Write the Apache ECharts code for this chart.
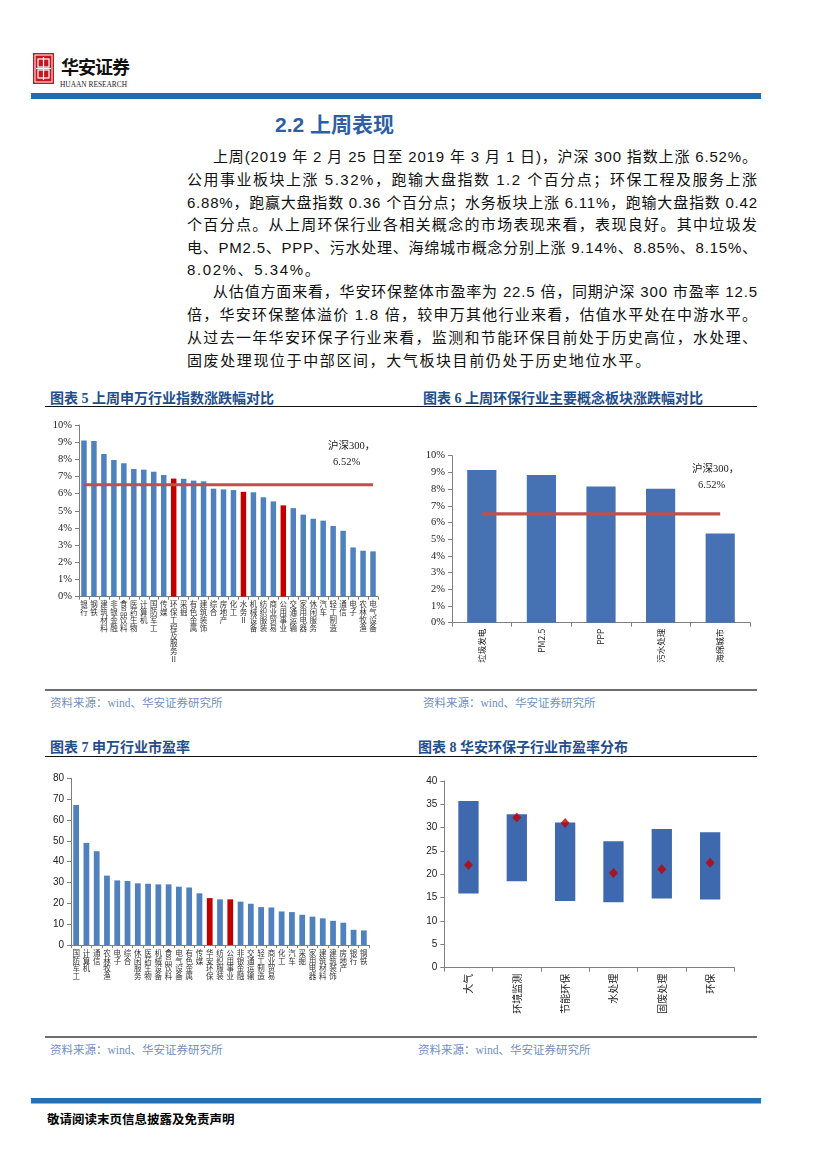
<!DOCTYPE html>
<html>
<head>
<meta charset="utf-8">
<script src="https://cdn.jsdelivr.net/npm/echarts/dist/echarts.min.js"></script>
<style>
html,body{margin:0;padding:0;background:#fff;}
#page{position:relative;width:827px;height:1169px;overflow:hidden;background:#fff;font-family:"Liberation Sans","Noto Sans CJK SC",sans-serif;}
.abs{position:absolute;}
.line{position:absolute;font-size:15px;color:#111;white-space:nowrap;line-height:20px;height:20px;}
.ctitle{position:absolute;font-size:14px;font-weight:bold;color:#234e8e;white-space:nowrap;font-family:"Liberation Serif","Noto Sans CJK SC",serif;}
.src{position:absolute;font-size:11.5px;color:#6f8fc0;white-space:nowrap;font-family:"Liberation Serif","Noto Sans CJK SC",serif;}
.rule{position:absolute;height:0;}
</style>
</head>
<body>
<div id="page">
  <!-- header -->
  <svg class="abs" style="left:33px;top:53px" width="21" height="31" viewBox="0 0 21 31">
    <rect x="0" y="0" width="21" height="31" fill="#c4161c"/>
    <rect x="2" y="2" width="17" height="27" fill="none" stroke="#fff" stroke-width="1"/>
    <rect x="5" y="6" width="11" height="8" fill="none" stroke="#fff" stroke-width="1.2"/>
    <rect x="5" y="17" width="11" height="8" fill="none" stroke="#fff" stroke-width="1.2"/>
    <line x1="10.5" y1="4" x2="10.5" y2="27" stroke="#fff" stroke-width="1.2"/>
    <line x1="3" y1="15.5" x2="18" y2="15.5" stroke="#fff" stroke-width="1.2"/>
  </svg>
  <div class="abs" style="left:61px;top:53px;font-size:18px;font-weight:bold;color:#111;letter-spacing:-1px;font-family:'Noto Sans CJK SC';">华安证券</div>
  <div class="abs" style="left:60px;top:79px;font-size:9px;color:#222;font-family:'Liberation Serif';transform:scaleX(0.82);transform-origin:left top;white-space:nowrap;">HUAAN RESEARCH</div>
  <div class="abs" style="left:31px;top:93px;width:730px;height:6px;background:#1f6db0;"></div>

  <div class="abs" style="left:275px;top:108px;font-size:21px;font-weight:bold;color:#2e5fa5;white-space:nowrap;">2.2 上周表现</div>

  <!-- chart titles -->
  <div class="ctitle" style="left:50px;top:387px;">图表 5 上周申万行业指数涨跌幅对比</div>
  <div class="ctitle" style="left:423px;top:387px;">图表 6 上周环保行业主要概念板块涨跌幅对比</div>
  <div class="rule" style="left:45px;top:406px;width:712px;border-top:1.5px solid #111;"></div>

  <div id="c5" class="abs" style="left:40px;top:415px;width:350px;height:272px;"></div>
  <div id="c6" class="abs" style="left:405px;top:440px;width:355px;height:247px;"></div>

  <div class="rule" style="left:45px;top:689px;width:712px;border-top:2px solid #6d6d6d;"></div>
  <div class="src" style="left:50px;top:694px;">资料来源：wind、华安证券研究所</div>
  <div class="src" style="left:423px;top:694px;">资料来源：wind、华安证券研究所</div>

  <div class="ctitle" style="left:50px;top:736px;">图表 7 申万行业市盈率</div>
  <div class="ctitle" style="left:418px;top:736px;">图表 8 华安环保子行业市盈率分布</div>
  <div class="rule" style="left:45px;top:756px;width:712px;border-top:1.5px solid #111;"></div>

  <div id="c7" class="abs" style="left:40px;top:765px;width:350px;height:268px;"></div>
  <div id="c8" class="abs" style="left:405px;top:770px;width:355px;height:263px;"></div>

  <div class="rule" style="left:45px;top:1036px;width:712px;border-top:2px solid #6d6d6d;"></div>
  <div class="src" style="left:50px;top:1041px;">资料来源：wind、华安证券研究所</div>
  <div class="src" style="left:418px;top:1041px;">资料来源：wind、华安证券研究所</div>

  <!-- footer -->
  <div class="abs" style="left:31px;top:1098px;width:730px;height:5px;background:#2471b5;border-bottom:1px solid #8db8e0;"></div>
  <div class="abs" style="left:47px;top:1109px;font-size:12.5px;font-weight:bold;color:#000;white-space:nowrap;font-family:'Noto Sans CJK SC';">敬请阅读末页信息披露及免责声明</div>
</div>

<script>
// ---------------- text ----------------
const bodyLines = [
  {t:"上周(2019 年 2 月 25 日至 2019 年 3 月 1 日)，沪深 300 指数上涨 6.52%。", indent:true, full:true},
  {t:"公用事业板块上涨 5.32%，跑输大盘指数 1.2 个百分点；环保工程及服务上涨", full:true},
  {t:"6.88%，跑赢大盘指数 0.36 个百分点；水务板块上涨 6.11%，跑输大盘指数 0.42", full:true},
  {t:"个百分点。从上周环保行业各相关概念的市场表现来看，表现良好。其中垃圾发", full:true},
  {t:"电、PM2.5、PPP、污水处理、海绵城市概念分别上涨 9.14%、8.85%、8.15%、", full:true},
  {t:"8.02%、5.34%。", full:false},
  {t:"从估值方面来看，华安环保整体市盈率为 22.5 倍，同期沪深 300 市盈率 12.5", indent:true, full:true},
  {t:"倍，华安环保整体溢价 1.8 倍，较申万其他行业来看，估值水平处在中游水平。", full:true},
  {t:"从过去一年华安环保子行业来看，监测和节能环保目前处于历史高位，水处理、", full:true},
  {t:"固废处理现位于中部区间，大气板块目前仍处于历史地位水平。", full:false}
];
const lineTops = [147,170,193,215,238,260,282,305,328,351];
(function(){
  const page = document.getElementById('page');
  bodyLines.forEach((ln,i)=>{
    const d = document.createElement('div');
    d.className = 'line';
    const left = ln.indent ? 213 : 187;
    const W = 757 - left;
    d.style.left = left + 'px';
    d.style.top = lineTops[i] + 'px';
    d.textContent = ln.t;
    page.appendChild(d);
    const n = [...ln.t].length;
    if (ln.full) {
      const w = d.getBoundingClientRect().width;
      const ls = (W - w) / (n - 1);
      d.style.letterSpacing = ls.toFixed(3) + 'px';
    } else {
      d.style.letterSpacing = '1.6px';
    }
  });
})();

// ---------------- data ----------------
const c5Cats = ["银行","钢铁","建筑材料","非银金融","食品饮料","医药生物","计算机","国防军工","传媒","环保工程及服务Ⅱ","采掘","有色金属","建筑装饰","综合","房地产","化工","水务Ⅱ","机械设备","纺织服装","商业贸易","公用事业","交通运输","家用电器","休闲服务","汽车","轻工制造","通信","电子","农林牧渔","电气设备"];
const c5Vals = [9.09,9.07,8.31,7.96,7.77,7.44,7.40,7.28,7.09,6.88,6.87,6.76,6.72,6.29,6.25,6.21,6.11,6.08,5.79,5.55,5.32,5.16,4.78,4.54,4.43,4.12,3.84,2.87,2.68,2.64];
const c5Highlight = ["环保工程及服务Ⅱ","水务Ⅱ","公用事业"];
const hs300 = 6.52;
const hs300Label = ["沪深300，","6.52%"];

const c6Cats = ["垃圾发电","PM2.5","PPP","污水处理","海绵城市"];
const c6Vals = [9.14,8.85,8.15,8.02,5.34];

const c7Cats = ["国防军工","计算机","通信","农林牧渔","电子","综合","休闲服务","医药生物","机械设备","食品饮料","电气设备","有色金属","传媒","华安环保","纺织服装","公用事业","非银金融","交通运输","轻工制造","商业贸易","化工","汽车","采掘","家用电器","建筑材料","建筑装饰","房地产","银行","钢铁"];
const c7Vals = [67.2,49.0,45.0,33.3,31.0,30.7,29.6,29.4,29.1,29.1,28.0,27.6,24.8,22.5,21.9,21.9,20.8,19.8,18.2,18.0,16.1,15.8,14.5,13.6,12.8,11.6,10.7,7.3,7.0];
const c7Highlight = ["华安环保","公用事业"];

const c8Cats = ["大气","环境监测","节能环保","水处理","固废处理","环保"];
const c8Min = [15.9,18.5,14.3,14.0,14.8,14.6];
const c8Max = [35.7,32.9,31.1,27.1,29.7,29.0];
const c8Cur = [22.0,32.2,31.0,20.3,21.1,22.5];

const pctTicks = {min:0,max:10,interval:1};
const pe7Ticks = {min:0,max:80,interval:10};
const pe8Ticks = {min:0,max:40,interval:5};

// ---------------- styles ----------------
const BLUE = '#4f81bd', RED = '#c00000', LINE = '#c0504d', AX = '#7f7f7f';
const serif = 'Liberation Serif';
const cjk = 'Noto Sans CJK SC';
const stack = v => [...String(v)].join('\n');

function yAx(t, fmt, font, size){
  return {type:'value',min:t.min,max:t.max,interval:t.interval,
    axisLine:{show:true,lineStyle:{color:AX,width:1}},
    axisTick:{show:true,length:4,lineStyle:{color:AX}},
    splitLine:{show:false},
    axisLabel:{formatter:fmt,fontFamily:font,fontSize:size,color:'#222',margin:7}};
}
function xAxStack(cats){
  return {type:'category',data:cats,
    axisLine:{lineStyle:{color:AX}},
    axisTick:{show:true,length:3,lineStyle:{color:AX}},
    axisLabel:{interval:0,rotate:0,hideOverlap:false,formatter:stack,fontFamily:cjk,fontSize:7.5,lineHeight:7.8,color:'#333',margin:4,align:'center',verticalAlign:'top'}};
}
function xAxRot(cats,size){
  return {type:'category',data:cats,
    axisLine:{lineStyle:{color:AX}},
    axisTick:{show:true,length:4,lineStyle:{color:AX}},
    axisLabel:{interval:0,rotate:90,fontFamily:cjk,fontSize:size,color:'#222',margin:6}};
}

// chart 5
echarts.init(document.getElementById('c5')).setOption({
  animation:false,
  grid:{left:39,top:10,width:299,height:171.7,containLabel:false},
  xAxis:xAxStack(c5Cats),
  yAxis:yAx(pctTicks,'{value}%',serif,10.5),
  series:[
    {type:'bar',barCategoryGap:'45%',z:2,
     data:c5Vals.map((v,i)=>({value:v,itemStyle:{color:c5Highlight.includes(c5Cats[i])?RED:BLUE}}))},
    {type:'line',data:c5Cats.map(()=>hs300),symbol:'none',z:5,lineStyle:{color:LINE,width:3.2}}
  ],
  graphic:[
    {type:'text',left:288,top:26,style:{text:hs300Label[0],font:'10.5px "Liberation Serif","Noto Sans CJK SC"',fill:'#222'}},
    {type:'text',left:293,top:42,style:{text:hs300Label[1],font:'10.5px "Liberation Serif"',fill:'#222'}}
  ]
});

// chart 6
echarts.init(document.getElementById('c6')).setOption({
  animation:false,
  grid:{left:47,top:15.7,width:298,height:167,containLabel:false},
  xAxis:xAxRot(c6Cats,8.5),
  yAxis:yAx(pctTicks,'{value}%',serif,10.5),
  series:[
    {type:'bar',barWidth:'49%',z:2,itemStyle:{color:'#4672b4'},data:c6Vals},
    {type:'line',data:c6Cats.map(()=>hs300),symbol:'none',z:5,lineStyle:{color:LINE,width:3.2}}
  ],
  graphic:[
    {type:'text',left:287,top:24,style:{text:hs300Label[0],font:'10.5px "Liberation Serif","Noto Sans CJK SC"',fill:'#222'}},
    {type:'text',left:293,top:40,style:{text:hs300Label[1],font:'10.5px "Liberation Serif"',fill:'#222'}}
  ]
});

// chart 7
echarts.init(document.getElementById('c7')).setOption({
  animation:false,
  grid:{left:31,top:13.3,width:298,height:166.7,containLabel:false},
  xAxis:xAxStack(c7Cats),
  yAxis:yAx(pe7Ticks,'{value}','Liberation Sans',10),
  series:[
    {type:'bar',barCategoryGap:'44%',
     data:c7Vals.map((v,i)=>({value:v,itemStyle:{color:c7Highlight.includes(c7Cats[i])?RED:BLUE}}))}
  ]
});

// chart 8
echarts.init(document.getElementById('c8')).setOption({
  animation:false,
  grid:{left:39.3,top:11,width:290,height:186.7,containLabel:false},
  xAxis:xAxRot(c8Cats,10),
  yAxis:yAx(pe8Ticks,'{value}','Liberation Sans',10),
  series:[
    {type:'bar',stack:'r',barWidth:'42%',itemStyle:{color:'transparent'},data:c8Min,silent:true},
    {type:'bar',stack:'r',barWidth:'42%',itemStyle:{color:'#3f69ae'},data:c8Max.map((v,i)=>+(v-c8Min[i]).toFixed(2))},
    {type:'scatter',symbol:'diamond',symbolSize:[9,10],itemStyle:{color:RED},z:5,data:c8Cur}
  ]
});
</script>
</body>
</html>
